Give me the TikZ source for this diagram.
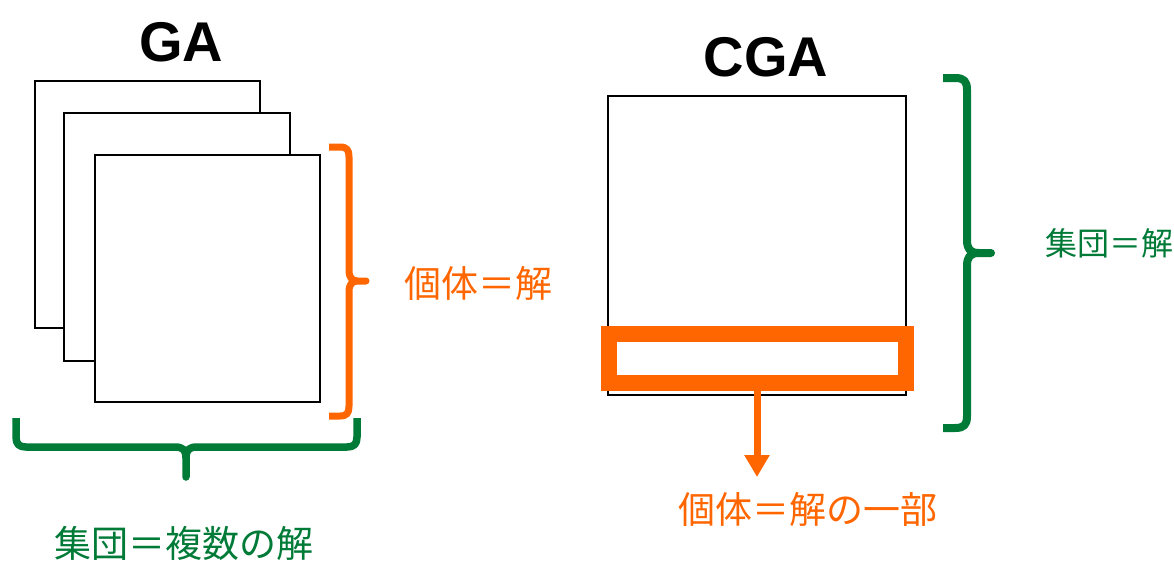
\documentclass[tikz,border=0pt]{standalone}
\usepackage{fontspec}
\setmainfont{Liberation Sans}
\newfontfamily\jp{Noto Sans CJK JP}
\usetikzlibrary{arrows.meta}
\definecolor{org}{HTML}{FF6600}
\definecolor{grn}{RGB}{0,122,55}
\tikzset{
  sheet/.style={draw=black, line width=2pt, fill=white, inner sep=0pt},
  title/.style={font=\fontsize{56}{60}\selectfont\bfseries, inner sep=0pt},
  jtxt/.style={font=\jp\fontsize{37}{40}\selectfont, inner sep=0pt},
  obrace/.style={draw=org, line width=7pt, line cap=butt, line join=round},
  gbrace/.style={draw=grn, line width=7.5pt, line cap=butt, line join=round},
  sel/.style={draw=org, line width=16pt, inner sep=0pt},
  oarrow/.style={draw=org, line width=7pt, -{Triangle[width=24pt,length=22pt]}}
}
\begin{document}
\begin{tikzpicture}[x=1pt,y=-1pt]
\useasboundingbox (0,0) rectangle (1174,560);
% GA stack
\node[sheet, minimum width=225pt, minimum height=247pt] (r1) at (147.5,204.5) {};
\node[sheet, minimum width=226pt, minimum height=248pt] (r2) at (177,237) {};
\node[sheet, minimum width=225pt, minimum height=247pt] (r3) at (207.5,278.5) {};
\node[title] (ga) at (181,42) {GA};
% orange brace (right of stack)
\draw[obrace] (329,147) -- (340,147) .. controls (347,147) and (349,150) .. (349,157)
  -- (349,270) .. controls (349,278) and (352,281) .. (358,281) -- (366,281)
  -- (358,281) .. controls (352,281) and (349,284) .. (349,292)
  -- (349,406) .. controls (349,413) and (347,416) .. (340,416) -- (329,416);
\node[jtxt, text=org] (ind) at (478,283) {個体＝解};
% green brace (below stack)
\draw[gbrace] (16,418) -- (16,437) .. controls (16,444) and (19,447) .. (26,447)
  -- (175,447) .. controls (183,447) and (186,450) .. (186,458) -- (186,477)
  -- (186,458) .. controls (186,450) and (189,447) .. (197,447)
  -- (347,447) .. controls (354,447) and (357,444) .. (357,437) -- (357,418);
\node[jtxt, text=grn] (pop) at (184,543) {集団＝複数の解};
% CGA
\node[title] (cga) at (766,57) {CGA};
\node[sheet, minimum width=298pt, minimum height=299pt] (big) at (757,245.5) {};
\node[sel, minimum width=297pt, minimum height=49pt] (part) at (757,358.5) {};
\coordinate (tip) at (757,477);
\draw[oarrow] (part.south) -- (tip);
\node[jtxt, text=org] (indp) at (808,509) {個体＝解の一部};
% green brace (right of CGA)
\draw[gbrace, line width=8pt] (943,78) -- (955,78) .. controls (964,78) and (967,81) .. (967,90)
  -- (967,240) .. controls (967,249) and (970,253) .. (979,253) -- (991,253)
  -- (979,253) .. controls (970,253) and (967,257) .. (967,266)
  -- (967,416) .. controls (967,425) and (964,428) .. (955,428) -- (943,428);
\node[jtxt, text=grn, font=\jp\fontsize{32}{36}\selectfont, anchor=west] (popc) at (1045,243) {集団＝解};
\end{tikzpicture}
\end{document}
